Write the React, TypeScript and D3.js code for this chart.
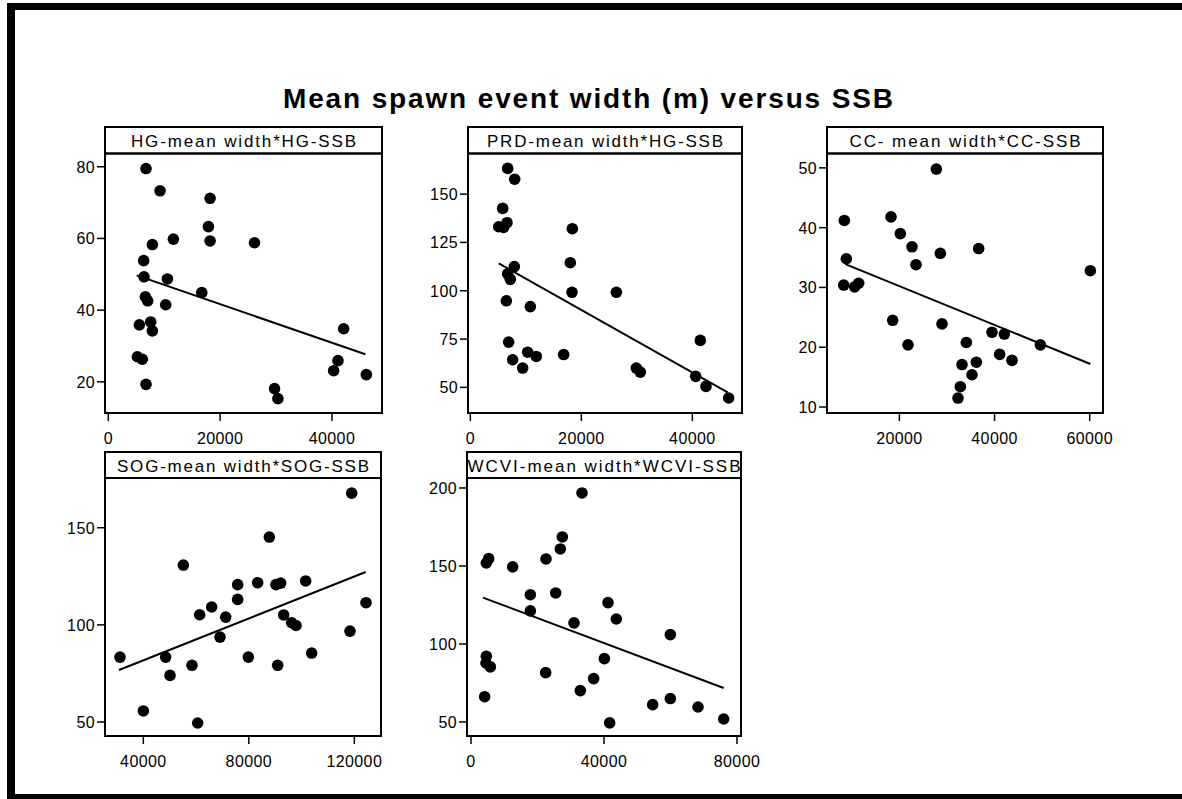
import React from "react";
import * as d3 from "d3";

// ---------- data ----------
const hgX = [6746, 9254, 18209, 17910, 18209, 26149, 11642, 7881, 6328, 6388, 10567, 16716, 6627, 7045, 10269, 5552, 7582, 7881, 5194, 6090, 6746, 29731, 30328, 40299, 41075, 42090, 46149];
const hgY = [79.5, 73.3, 71.2, 63.3, 59.3, 58.8, 59.8, 58.3, 53.8, 49.3, 48.7, 44.9, 43.7, 42.6, 41.5, 35.9, 36.7, 34.2, 27.0, 26.3, 19.3, 18.1, 15.3, 23.1, 25.9, 34.8, 22.0];

const prdX = [6727, 7988, 5826, 5105, 6006, 6607, 18378, 18018, 18318, 26306, 7928, 6727, 7207, 6486, 10811, 6907, 7628, 9429, 10330, 11892, 16817, 29910, 30631, 40601, 41441, 42462, 46547];
const prdY = [163.3, 157.7, 142.6, 133.1, 132.8, 135.2, 132.1, 114.5, 99.2, 99.2, 112.5, 108.7, 105.9, 94.8, 91.8, 73.4, 64.3, 60.0, 68.2, 66.0, 67.0, 60.0, 57.9, 55.7, 74.3, 50.5, 44.5];

const ccX = [27764, 8431, 18238, 20200, 22652, 23492, 28606, 36662, 8852, 8291, 10603, 11443, 18588, 28956, 21812, 34071, 39465, 42057, 41076, 43668, 36171, 33159, 35260, 32808, 32318, 49626, 60133];
const ccY = [49.8, 41.2, 41.8, 39.0, 36.8, 33.8, 35.7, 36.5, 34.8, 30.4, 30.1, 30.7, 24.5, 23.9, 20.4, 20.8, 22.5, 22.2, 18.8, 17.8, 17.5, 17.1, 15.4, 13.4, 11.5, 20.4, 32.8];

const sogX = [31153, 40000, 48468, 50111, 55166, 58452, 60600, 61359, 65909, 71217, 69068, 75766, 75766, 79810, 83349, 87772, 90300, 92069, 90932, 93207, 96240, 97883, 101548, 103823, 118357, 118989, 124423];
const sogY = [83.4, 55.7, 83.4, 74.0, 130.8, 79.2, 49.5, 105.2, 109.2, 104.0, 93.7, 120.7, 113.1, 83.4, 121.7, 145.2, 120.7, 121.5, 79.2, 105.1, 101.1, 99.7, 122.6, 85.5, 96.8, 167.8, 111.4];

const wcviX = [33383, 27469, 26867, 22556, 5313, 4612, 12531, 17845, 17845, 25464, 41203, 43709, 30977, 59950, 4612, 4511, 5815, 22456, 40100, 36892, 32882, 4110, 54636, 59950, 68271, 41704, 75989];
const wcviY = [196.8, 168.6, 160.9, 154.5, 154.7, 151.9, 149.4, 131.6, 121.2, 132.7, 126.5, 116.0, 113.5, 106.0, 92.1, 87.8, 85.3, 81.6, 90.6, 77.8, 70.1, 66.2, 61.1, 65.0, 59.6, 49.4, 51.9];

// fitted line end points [x0, x1], [y0, y1]
const hgFitX = [5075, 45970];
const hgFitY = [49.7, 27.7];
const prdFitX = [5105, 46366];
const prdFitY = [114.2, 47.4];
const ccFitX = [8641, 60133];
const ccFitY = [33.9, 17.2];
const sogFitX = [30774, 124297];
const sogFitY = [76.8, 127.2];
const wcviFitX = [3609, 75989];
const wcviFitY = [129.7, 71.8];

// axis domains
const hgXDomain = [-590, 48950];
const hgYDomain = [11.3, 83.7];
const prdXDomain = [-420, 48950];
const prdYDomain = [36.75, 171];
const ccXDomain = [4787, 62792];
const ccYDomain = [9.0, 52.4];
const sogXDomain = [25466, 130111];
const sogYDomain = [42.8, 175.6];
const wcviXDomain = [-1203, 81203];
const wcviYDomain = [41.0, 206.4];

// tick values
const hgXTicks = [0, 20000, 40000];
const hgYTicks = [20, 40, 60, 80];
const prdXTicks = [0, 20000, 40000];
const prdYTicks = [50, 75, 100, 125, 150];
const ccXTicks = [20000, 40000, 60000];
const ccYTicks = [10, 20, 30, 40, 50];
const sogXTicks = [40000, 80000, 120000];
const sogYTicks = [50, 100, 150];
const wcviXTicks = [0, 40000, 80000];
const wcviYTicks = [50, 100, 150, 200];

const panelTitles = [
  "HG-mean width*HG-SSB",
  "PRD-mean width*HG-SSB",
  "CC- mean width*CC-SSB",
  "SOG-mean width*SOG-SSB",
  "WCVI-mean width*WCVI-SSB",
];

const chartTitle = "Mean spawn event width (m) versus SSB";

// ---------- layout ----------
type Panel = {
  title: string;
  xs: number[];
  ys: number[];
  fitX: number[];
  fitY: number[];
  xDomain: number[];
  yDomain: number[];
  xTicks: number[];
  yTicks: number[];
  left: number;
  right: number;
  headTop: number;
  headBottom: number;
  bottom: number;
  titleWidth: number;
};

const panels: Panel[] = [
  { title: panelTitles[0], xs: hgX, ys: hgY, fitX: hgFitX, fitY: hgFitY, xDomain: hgXDomain, yDomain: hgYDomain, xTicks: hgXTicks, yTicks: hgYTicks, left: 105, right: 382, headTop: 127, headBottom: 153.5, bottom: 413, titleWidth: 225 },
  { title: panelTitles[1], xs: prdX, ys: prdY, fitX: prdFitX, fitY: prdFitY, xDomain: prdXDomain, yDomain: prdYDomain, xTicks: prdXTicks, yTicks: prdYTicks, left: 468, right: 742, headTop: 127, headBottom: 153.5, bottom: 413, titleWidth: 236 },
  { title: panelTitles[2], xs: ccX, ys: ccY, fitX: ccFitX, fitY: ccFitY, xDomain: ccXDomain, yDomain: ccYDomain, xTicks: ccXTicks, yTicks: ccYTicks, left: 827, right: 1103, headTop: 127, headBottom: 153.5, bottom: 413, titleWidth: 231 },
  { title: panelTitles[3], xs: sogX, ys: sogY, fitX: sogFitX, fitY: sogFitY, xDomain: sogXDomain, yDomain: sogYDomain, xTicks: sogXTicks, yTicks: sogYTicks, left: 105, right: 381, headTop: 452, headBottom: 478, bottom: 736, titleWidth: 252 },
  { title: panelTitles[4], xs: wcviX, ys: wcviY, fitX: wcviFitX, fitY: wcviFitY, xDomain: wcviXDomain, yDomain: wcviYDomain, xTicks: wcviXTicks, yTicks: wcviYTicks, left: 467, right: 741, headTop: 452, headBottom: 478, bottom: 736, titleWidth: 273 },
];

const FONT = "'Liberation Sans', Arial, sans-serif";

function PanelView({ p }: { p: Panel }) {
  const x = d3.scaleLinear().domain(p.xDomain).range([p.left, p.right]);
  const y = d3.scaleLinear().domain(p.yDomain).range([p.bottom, p.headBottom]);
  const fit = d3
    .line<number>()
    .x((d) => x(p.fitX[d]))
    .y((d) => y(p.fitY[d]));
  const cx = (p.left + p.right) / 2;
  return (
    <g>
      {/* header */}
      <rect x={p.left} y={p.headTop} width={p.right - p.left} height={p.headBottom - p.headTop} fill="#fff" stroke="#000" strokeWidth={2} />
      <text x={cx} y={p.headBottom - 6.5} textAnchor="middle" fontFamily={FONT} fontSize={17} textLength={p.titleWidth} lengthAdjust="spacing" fill="#000">
        {p.title}
      </text>
      {/* plot box */}
      <rect x={p.left} y={p.headBottom} width={p.right - p.left} height={p.bottom - p.headBottom} fill="none" stroke="#000" strokeWidth={2} />
      {/* y ticks */}
      {p.yTicks.map((t) => (
        <g key={"y" + t}>
          <line x1={p.left - 8} x2={p.left} y1={y(t)} y2={y(t)} stroke="#000" strokeWidth={1.5} />
          <text x={p.left - 10} y={y(t) + 6} textAnchor="end" fontFamily={FONT} fontSize={16} letterSpacing={0.4} fill="#000">
            {t}
          </text>
        </g>
      ))}
      {/* x ticks */}
      {p.xTicks.map((t) => (
        <g key={"x" + t}>
          <line x1={x(t)} x2={x(t)} y1={p.bottom} y2={p.bottom + 8} stroke="#000" strokeWidth={1.5} />
          <text x={x(t)} y={p.bottom + 30.5} textAnchor="middle" fontFamily={FONT} fontSize={16} letterSpacing={0.4} fill="#000">
            {t}
          </text>
        </g>
      ))}
      {/* fit line */}
      <path d={fit([0, 1]) || ""} fill="none" stroke="#000" strokeWidth={2} />
      {/* points */}
      {p.xs.map((v, i) => (
        <circle key={i} cx={x(v)} cy={y(p.ys[i])} r={5.8} fill="#000" />
      ))}
    </g>
  );
}

export default function App() {
  return (
    <div style={{ position: "absolute", left: 0, top: 0 }}>
      <svg width={1182} height={799} style={{ display: "block", background: "#fff" }}>
        <rect x={0} y={0} width={1182} height={799} fill="#fff" />
        {/* outer frame */}
        <rect x={7} y={3} width={1175} height={7} fill="#000" />
        <rect x={7} y={3} width={8} height={796} fill="#000" />
        <rect x={7} y={794} width={1175} height={5} fill="#000" />
        <text x={588} y={108} textAnchor="middle" fontFamily={FONT} fontWeight="bold" fontSize={28} textLength={610} lengthAdjust="spacing" fill="#000">
          {chartTitle}
        </text>
        {panels.map((p, i) => (
          <PanelView key={i} p={p} />
        ))}
      </svg>
    </div>
  );
}
